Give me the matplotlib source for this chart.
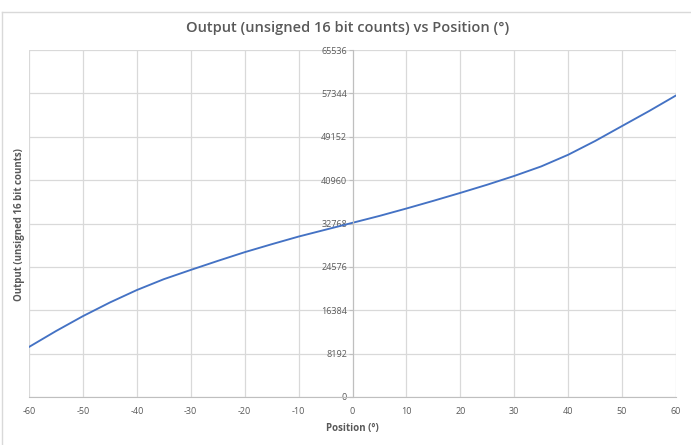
import numpy as np
import matplotlib.pyplot as plt

# position in degrees and output
position = [-60, -55, -50, -45, -40, -35, -30, -25, -20, -15, -10, -5,
            0, 5, 10, 15, 20, 25, 30, 35, 40, 45, 50, 55, 60]
output = [9450, 12450, 15270, 17850, 20200, 22250, 24000, 25700, 27350, 28850, 30300, 31600,
          32900, 34200, 35600, 37050, 38550, 40100, 41750, 43550, 45750, 48350, 51180, 54000, 56950]

x_ticks = list(range(-60, 61, 10))
y_ticks = [0, 8192, 16384, 24576, 32768, 40960, 49152, 57344, 65536]

grey_text = '#595959'
grid_col = '#d9d9d9'

plt.rcParams['font.family'] = ['Open Sans', 'DejaVu Sans']
plt.rcParams['axes.unicode_minus'] = False

fig = plt.figure(figsize=(6.91, 4.45), dpi=100)
ax = fig.add_axes([29 / 691, 1 - 397 / 445, (676 - 29) / 691, (397 - 50) / 445])

ax.plot(position, output, color='#4472C4', linewidth=1.35)

ax.set_xlim(-60, 60)
ax.set_ylim(0, 65536)
ax.set_xticks(x_ticks)
ax.set_yticks(y_ticks)
ax.grid(True, color=grid_col, linewidth=0.9)
ax.set_axisbelow(True)

# y axis sits at x = 0 like the Excel original
ax.spines['left'].set_position(('data', 0))
ax.spines['left'].set_color('#bfbfbf')
ax.spines['bottom'].set_color('#bfbfbf')
ax.spines['top'].set_visible(False)
ax.spines['right'].set_visible(False)

ax.tick_params(axis='y', labelsize=6.5, labelcolor=grey_text, color='#bfbfbf',
               length=3, direction='out', pad=1)
ax.tick_params(axis='x', labelsize=6.5, labelcolor=grey_text, color='#bfbfbf',
               length=0, pad=7)

ax.set_xlabel('Position (°)', fontsize=7, fontweight='bold', color=grey_text, labelpad=5)
fig.text(20 / 691, 1 - 225 / 445, 'Output (unsigned 16 bit counts)', rotation=90,
         fontsize=7, fontweight='bold', color=grey_text, ha='center', va='center')

fig.text(348 / 691, 1 - 28 / 445, 'Output (unsigned 16 bit counts) vs Position (°)',
         fontsize=10.5, fontweight='semibold', color=grey_text, ha='center', va='center')

# light chart border
fig.add_artist(plt.Line2D([1.5 / 691, 1.5 / 691], [0, 1 - 12 / 445], color=grid_col, linewidth=1))
fig.add_artist(plt.Line2D([1.5 / 691, 1], [1 - 12 / 445, 1 - 12 / 445], color=grid_col, linewidth=1))

fig.savefig('out.png', dpi=100)
